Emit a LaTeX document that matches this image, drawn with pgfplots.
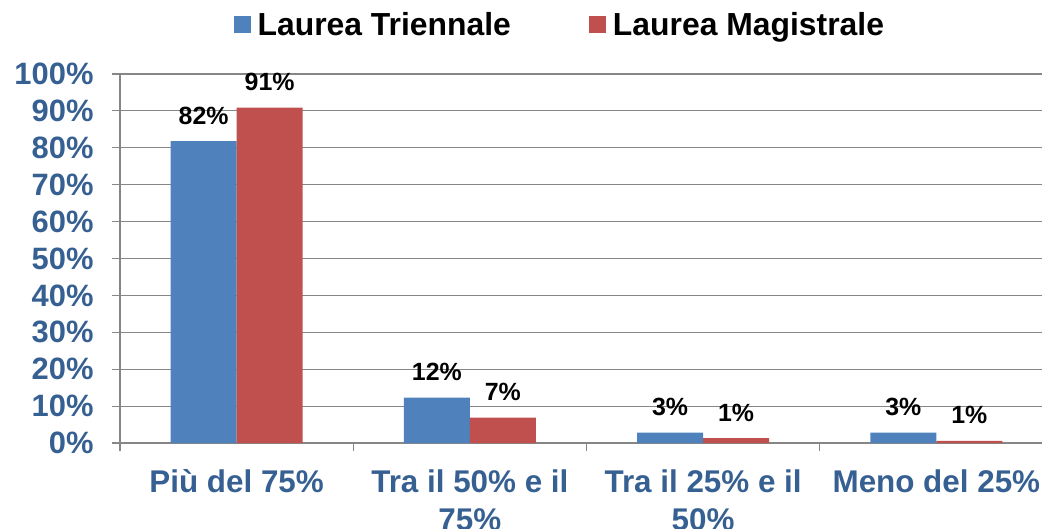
\documentclass[border=0pt]{standalone}
\usepackage{pgfplots}
\pgfplotsset{compat=1.18}
\usepackage{fontspec}
\setmainfont{Liberation Sans}
\definecolor{barblue}{HTML}{4F81BD}
\definecolor{barred}{HTML}{C0504D}
\definecolor{ticktext}{HTML}{376092}
\definecolor{gridgray}{HTML}{868686}
\begin{document}
\begin{tikzpicture}
\path[use as bounding box] (-120bp,-86bp) rectangle (922bp,443bp);
\clip (-120bp,-86bp) rectangle (922bp,443bp);
\begin{axis}[
  at={(0,0)}, anchor=south west,
  scale only axis,
  width=933bp, height=369bp,
  xmin=-0.5, xmax=3.5,
  ymin=0, ymax=100,
  ybar=0pt, bar width=66bp,
  axis lines*=left,
  axis line style={gridgray, line width=1.2bp},
  ymajorgrids,
  grid style={gridgray, line width=1.2bp},
  tick align=outside,
  major tick length=8bp,
  minor tick length=8bp,
  tick style={gridgray, line width=1.2bp},
  major x tick style={draw=none},
  xtick={0,1,2,3},
  minor xtick={-0.5,0.5,1.5,2.5,3.5},
  xticklabels={Più del 75\%, Tra il 50\% e il\\75\%, Tra il 25\% e il\\50\%, Meno del 25\%},
  xticklabel style={font=\fontsize{31.5}{38}\selectfont\bfseries, text=ticktext, align=center, yshift=-15bp},
  ytick={0,10,...,100},
  yticklabels={0\%,10\%,20\%,30\%,40\%,50\%,60\%,70\%,80\%,90\%,100\%},
  yticklabel style={font=\fontsize{31}{35}\selectfont\bfseries, text=ticktext, xshift=-15bp},
  nodes near coords={\pgfmathprintnumber[fixed,precision=0,assume math mode=true]{\pgfplotspointmeta}\%},
  nodes near coords style={font=\fontsize{25}{30}\selectfont\bfseries, text=black, anchor=base, yshift=17bp},
  legend style={at={(0.4714,1.133)}, anchor=center, draw=none, fill=none,
    legend columns=2, font=\fontsize{32}{36}\selectfont\bfseries,
    /tikz/every even column/.append style={column sep=76bp}},
  legend image code/.code={\fill[#1] (0bp,-8.5bp) rectangle (17bp,8.5bp); \path (22bp,0bp);},
]
\addplot[fill=barblue, draw=none] coordinates {(0,81.8) (1,12.3) (2,2.8) (3,2.8)};
\addplot[fill=barred, draw=none] coordinates {(0,90.9) (1,6.9) (2,1.35) (3,0.6)};
\legend{Laurea Triennale, Laurea Magistrale}
\end{axis}
\end{tikzpicture}
\end{document}
